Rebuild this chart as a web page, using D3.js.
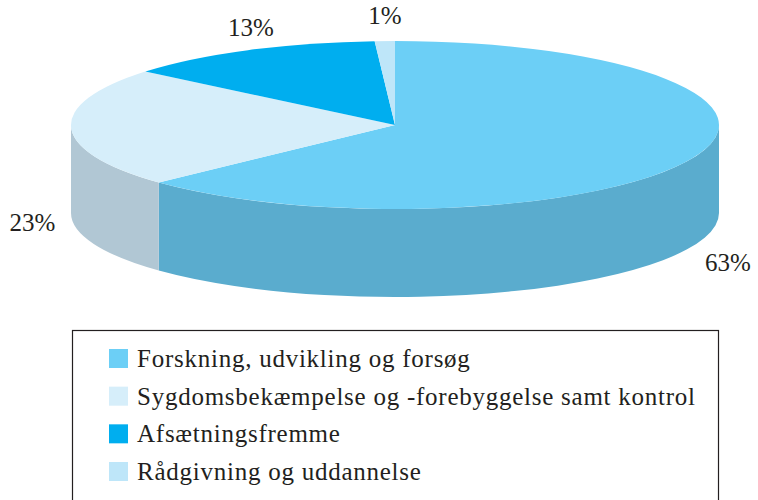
<!DOCTYPE html>
<html>
<head>
<meta charset="utf-8">
<script src="https://cdn.jsdelivr.net/npm/d3@7"></script>
<style>
  body { margin: 0; background: #fff; }
  text { font-family: "Liberation Serif", "Times New Roman", serif; fill: #231f20; }
</style>
</head>
<body>
<svg id="mainsvg" width="758" height="500"></svg>
<script>
// data
const categories = ["Forskning, udvikling og forsøg",
                    "Sygdomsbekæmpelse og -forebyggelse samt kontrol",
                    "Afsætningsfremme",
                    "Rådgivning og uddannelse"];
const values = [63, 23, 13, 1];
const labels = ["63%", "23%", "13%", "1%"];

const topColor  = ["#6ccff6", "#d6eefa", "#00aeef", "#bee6f9"];
const sideColor = ["#5aacce", "#b1c7d4", "#0091c7", "#9fc0d0"];

const svg = d3.select('#mainsvg');
const cx = 395, cy = 125;
const rx = 324, ry = 84;
const depth = 88;

const pie = d3.pie().sort(null).value(d => d).startAngle(0).endAngle(2 * Math.PI);
const arcs = pie(values);

const pt = (a, off = 0) => [cx + rx * Math.sin(a), cy - ry * Math.cos(a) + off];

const topPath = function(d) {
    const p0 = pt(d.startAngle), p1 = pt(d.endAngle);
    const large = (d.endAngle - d.startAngle) > Math.PI ? 1 : 0;
    return `M${cx},${cy}L${p0}A${rx},${ry} 0 ${large} 1 ${p1}Z`;
};

const sidePath = function(d) {
    const a0 = Math.max(d.startAngle, Math.PI / 2);
    const a1 = Math.min(d.endAngle, 3 * Math.PI / 2);
    if (a0 >= a1) return null;
    const large = (a1 - a0) > Math.PI ? 1 : 0;
    return `M${pt(a0)}A${rx},${ry} 0 ${large} 1 ${pt(a1)}` +
           `L${pt(a1, depth)}A${rx},${ry} 0 ${large} 0 ${pt(a0, depth)}Z`;
};

const g = svg.append('g');

// sides (front half only)
g.selectAll('.side')
  .data(arcs.filter(d => sidePath(d)))
  .join('path')
  .attr('class', 'side')
  .attr('d', sidePath)
  .attr('fill', d => sideColor[d.index]);

// tops
g.selectAll('.top')
  .data(arcs)
  .join('path')
  .attr('class', 'top')
  .attr('d', topPath)
  .attr('fill', d => topColor[d.index]);

// percentage labels
g.selectAll('.lbl')
  .data(arcs)
  .join('text')
  .attr('class', 'lbl')
  .attr('font-size', 25)
  .attr('text-anchor', 'middle')
  .attr('dominant-baseline', 'central')
  .attr('x', d => {
      const m = (d.startAngle + d.endAngle) / 2;
      const s = Math.sin(m);
      // top-side labels sit closer to the centre line
      return cx + rx * (Math.cos(m) > 0.5 ? 0.98 : 1.12) * s;
  })
  .attr('y', d => {
      const m = (d.startAngle + d.endAngle) / 2;
      const c = Math.cos(m);
      return cy - ry * 1.3 * c + (c < 0 ? depth + 6 : 0);
  })
  .text(d => labels[d.index]);

// legend
const legend = svg.append('g');
legend.append('rect')
  .attr('x', 72.5).attr('y', 330.5)
  .attr('width', 646).attr('height', 200)
  .attr('fill', 'none')
  .attr('stroke', '#231f20')
  .attr('stroke-width', 1.2);

const rowY = d3.scaleLinear().domain([0, 3]).range([349, 462]);

const item = legend.selectAll('.item')
  .data(categories)
  .join('g')
  .attr('class', 'item')
  .attr('transform', (d, i) => `translate(109, ${rowY(i)})`);

item.append('rect')
  .attr('width', 19).attr('height', 19)
  .attr('fill', (d, i) => topColor[i]);

item.append('text')
  .attr('x', 28)
  .attr('y', 18)
  .attr('font-size', 25)
  .attr('letter-spacing', 0.75)
  .text(d => d);
</script>
</body>
</html>
